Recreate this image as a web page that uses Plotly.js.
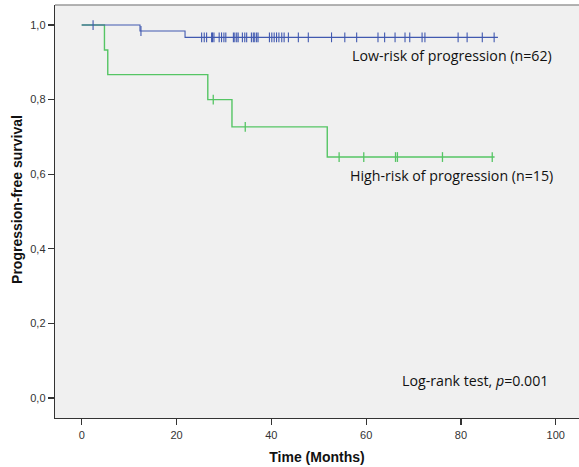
<!DOCTYPE html>
<html>
<head>
<meta charset="utf-8">
<script src="https://cdn.plot.ly/plotly-3.0.1.min.js"></script>
<style>html,body{margin:0;padding:0;background:#fff;}#chart{width:579px;height:467px;}</style>
</head>
<body>
<div id="chart"></div>
<script>
// Low-risk group: step curve (time, survival) and censor times
var lowStepTimes = [0, 12.3, 21.8, 87.8];
var lowStepSurv  = [1.0, 0.984, 0.967, 0.967];
var lowCensorTimes = [2.4, 12.5, 25.3, 25.85, 26.35, 27.4, 27.6, 27.9, 29.0, 29.5, 30.0, 30.4,
  32.0, 32.3, 32.7, 33.0, 33.9, 34.4, 34.8, 35.8, 36.2, 36.5, 36.9, 37.2, 39.6, 40.1, 40.6,
  41.1, 41.6, 42.2, 42.7, 43.6, 45.7, 47.8, 52.7, 55.5, 58.0, 62.5, 63.9, 66.1, 68.2, 69.2,
  71.8, 72.4, 79.4, 81.3, 84.5, 87.0];

// High-risk group
var highStepTimes = [0, 4.8, 5.5, 26.6, 31.7, 51.8, 87.1];
var highStepSurv  = [1.0, 0.933, 0.867, 0.800, 0.727, 0.646, 0.646];
var highCensorTimes = [27.75, 34.5, 54.3, 59.5, 66.2, 66.6, 76.1, 86.6];

var xTicks = [0, 20, 40, 60, 80, 100];
var yTicks = [0, 0.2, 0.4, 0.6, 0.8, 1.0];

function survAt(times, surv, t) {
  var s = surv[0];
  for (var i = 0; i < times.length; i++) { if (times[i] <= t) s = surv[i]; }
  return s;
}

var blue = '#4159b0';
var green = '#55c564';

var traces = [
  {x: highStepTimes, y: highStepSurv, mode: 'lines', line: {shape: 'hv', color: green, width: 1.4}, hoverinfo: 'skip'},
  {x: highCensorTimes, y: highCensorTimes.map(function(t){return survAt(highStepTimes, highStepSurv, t);}),
   mode: 'markers', marker: {symbol: 'line-ns', size: 7, line: {color: green, width: 1.3}}, hoverinfo: 'skip'},
  {x: lowStepTimes, y: lowStepSurv, mode: 'lines', line: {shape: 'hv', color: blue, width: 1.1}, hoverinfo: 'skip'},
  {x: lowCensorTimes, y: lowCensorTimes.map(function(t){return survAt(lowStepTimes, lowStepSurv, t);}),
   mode: 'markers', marker: {symbol: 'line-ns', size: 7, line: {color: blue, width: 1.1}}, hoverinfo: 'skip'}
];

var tickFont = {family: 'Liberation Sans, Arial, sans-serif', size: 11, color: '#333'};
var titleFont = {family: 'Liberation Sans, Arial, sans-serif', size: 14, color: '#111'};
var annFont = {family: 'Open Sans, sans-serif', size: 14.2, color: '#111'};
var layout = {
  width: 579, height: 467,
  margin: {l: 55, r: 0, t: 5, b: 49},
  paper_bgcolor: '#ffffff',
  plot_bgcolor: '#f0f0f0',
  showlegend: false,
  separators: ',.',
  xaxis: {
    range: [-5.63, 104.9], tickvals: xTicks, ticktext: xTicks.map(String),
    ticks: 'outside', ticklen: 6, tickcolor: '#333', tickwidth: 1.2,
    showline: true, linecolor: '#333', linewidth: 1.3, showgrid: false, zeroline: false,
    tickfont: tickFont,
    title: {text: '<b>Time (Months)</b>', font: titleFont, standoff: 12}
  },
  yaxis: {
    range: [-0.0537, 1.0537], tickvals: yTicks, tickformat: '.1f',
    ticks: 'outside', ticklen: 6, tickcolor: '#333', tickwidth: 1.2,
    showline: true, linecolor: '#333', linewidth: 1.3, showgrid: false, zeroline: false,
    tickfont: tickFont
  },
  shapes: [
    {type: 'line', xref: 'paper', yref: 'paper', x0: 0, x1: 1, y0: 1, y1: 1, line: {color: '#9a9a9a', width: 1.5}}
  ],
  annotations: [
    {x: -0.0725, y: 0.528, xref: 'paper', yref: 'paper', xanchor: 'center', yanchor: 'middle', showarrow: false,
     textangle: -90, text: '<b>Progression-free survival</b>', font: titleFont},
    {x: 56.6, y: 0.9195, xref: 'x', yref: 'y', xanchor: 'left', yanchor: 'middle', showarrow: false,
     text: 'Low-risk of progression (n=62)', font: annFont},
    {x: 56.2, y: 0.5975, xref: 'x', yref: 'y', xanchor: 'left', yanchor: 'middle', showarrow: false,
     text: 'High-risk of progression (n=15)', font: annFont},
    {x: 67.2, y: 0.047, xref: 'x', yref: 'y', xanchor: 'left', yanchor: 'middle', showarrow: false,
     text: 'Log-rank test, <i>p</i>=0.001', font: annFont}
  ]
};

Plotly.newPlot('chart', traces, layout, {staticPlot: true, displayModeBar: false});
</script>
</body>
</html>
